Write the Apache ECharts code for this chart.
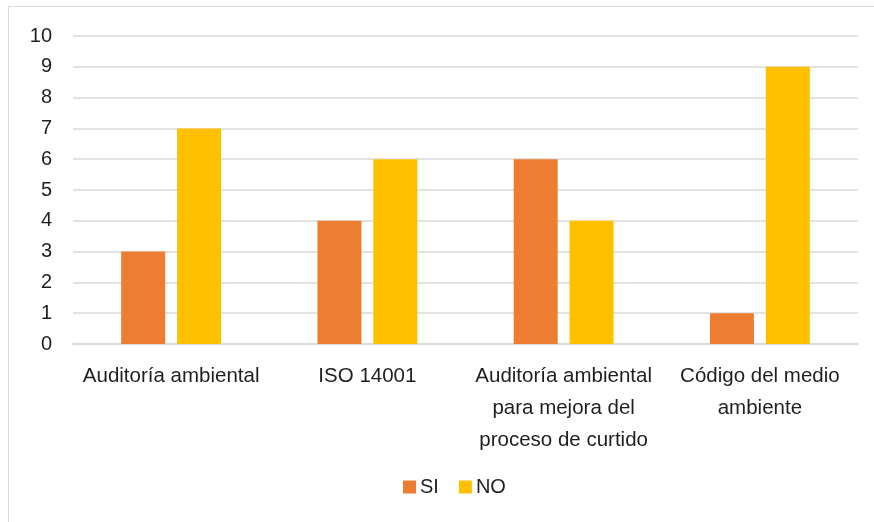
<!DOCTYPE html>
<html><head><meta charset="utf-8">
<script src="https://cdn.jsdelivr.net/npm/echarts@6/dist/echarts.min.js"></script>
<style>
html,body{margin:0;padding:0;background:#fff;overflow:hidden}
#frame{position:absolute;left:8px;top:6px;width:900px;height:600px;border:1px solid #d9d9d9;box-sizing:border-box}
#main{position:absolute;left:0;top:0;width:874px;height:522px}
</style></head>
<body>
<div id="frame"></div>
<div id="main"></div>
<script>
const categories = ["Auditoría ambiental", "ISO 14001", "Auditoría ambiental\npara mejora del\nproceso de curtido", "Código del medio\nambiente"];
const siValues = [3, 4, 6, 1];
const noValues = [7, 6, 4, 9];
const seriesNames = ["SI", "NO"];

const FONT = "'Liberation Sans', sans-serif";
const TXT = '#1f1f1f';
const chart = echarts.init(document.getElementById('main'), null, {renderer: 'canvas'});
chart.setOption({
  animation: false,
  backgroundColor: 'transparent',
  grid: {left: 73, right: 16, top: 36, bottom: 178, containLabel: false},
  legend: {
    data: seriesNames, bottom: 20, left: 398, itemWidth: 13, itemHeight: 13, itemGap: 20,
    icon: 'rect',
    textStyle: {fontFamily: FONT, fontSize: 20, color: TXT, padding: [0,0,0,-1]}
  },
  xAxis: {
    type: 'category', data: categories,
    axisLine: {lineStyle: {color: '#d9d9d9', width: 1.5}},
    axisTick: {show: false},
    axisLabel: {fontFamily: FONT, fontSize: 20.5, color: TXT, lineHeight: 32, margin: 16, interval: 0}
  },
  yAxis: {
    type: 'value', min: 0, max: 10, interval: 1,
    axisLine: {show: false}, axisTick: {show: false},
    splitLine: {lineStyle: {color: '#d9d9d9', width: 1.5}},
    axisLabel: {fontFamily: FONT, fontSize: 20, color: TXT, margin: 21}
  },
  series: [
    {name: seriesNames[0], type: 'bar', data: siValues, barWidth: 44, barGap: '27%', itemStyle: {color: '#ED7D31'}},
    {name: seriesNames[1], type: 'bar', data: noValues, barWidth: 44, itemStyle: {color: '#FFC000'}}
  ]
});
</script>
</body></html>
